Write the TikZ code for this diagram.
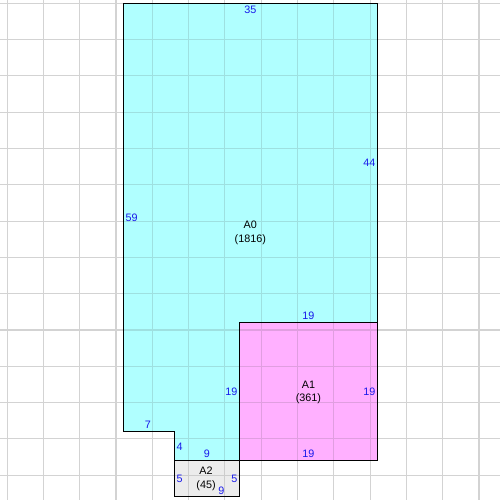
\documentclass[tikz,border=0pt]{standalone}
\usepackage{fontspec}
\setmainfont{Liberation Sans}
\usepackage{tikz}
\definecolor{C}{RGB}{176, 255, 255}
\definecolor{M}{RGB}{255, 176, 255}
\definecolor{Gy}{RGB}{236, 236, 236}
\definecolor{Lw}{RGB}{211, 211, 211}
\definecolor{Lc}{RGB}{158, 224, 224}
\definecolor{Lm}{RGB}{224, 158, 224}
\definecolor{Lg}{RGB}{205, 205, 205}
\definecolor{Bl}{RGB}{24, 24, 235}
\newcommand{\gridlines}[1]{%
  \foreach \x in {-16,-11,...,49}
    \draw[#1, line width=0.8pt] (\x,-0.45) -- (\x,68.42);
  \foreach \y in {0,5,...,65}
    \draw[#1, line width=0.8pt] (-16.98,\y) -- (51.89,\y);
}
\tikzset{
  outline/.style={black, line width=0.8pt},
  side/.style={Bl, inner sep=0pt, font=\fontsize{8.1}{10}\selectfont},
  area/.style={black, inner sep=0pt, align=center, font=\fontsize{8.1}{10}\selectfont}
}

\begin{document}
\begin{tikzpicture}[x=5.445pt, y=-5.445pt]
  \useasboundingbox (-16.98,-0.45) rectangle (51.89,68.42);
  % grid on white
  \gridlines{Lw}
  % A0
  \begin{scope}
    \clip (0,0) -- (35,0) -- (35,44) -- (16,44) -- (16,63) -- (7,63) -- (7,59) -- (0,59) -- cycle;
    \fill[color=C] (0,0) rectangle (35,63);
    \gridlines{Lc}
  \end{scope}
  % A1
  \begin{scope}
    \clip (16,44) rectangle (35,63);
    \fill[color=M] (16,44) rectangle (35,63);
    \gridlines{Lm}
  \end{scope}
  % A2
  \begin{scope}
    \clip (7,63) rectangle (16,68);
    \fill[color=Gy] (7,63) rectangle (16,68);
    \gridlines{Lg}
  \end{scope}
  % outlines
  \draw[outline] (0,0) -- (35,0) -- (35,44) -- (16,44) -- (16,63) -- (7,63) -- (7,59) -- (0,59) -- cycle;
  \draw[outline] (16,44) rectangle (35,63);
  \draw[outline] (7,63) rectangle (16,68);
  % A0
  \node[side] (a0top) at (17.5,0.95) {35};
  \node[side, anchor=east] (a0right) at (34.75,22) {44};
  \node[side, anchor=west] (a0left) at (0.3,29.6) {59};
  \node[side] (a0step) at (25.5,43.05) {19};
  \node[side, anchor=east] (a0inner) at (15.75,53.5) {19};
  \node[side] (a0seven) at (3.4,58.1) {7};
  \node[side, anchor=west] (a0four) at (7.3,61.1) {4};
  \node[side] (a0nine) at (11.5,62.1) {9};
  \node[area] (a0) at (17.5,31.6) {A0\\(1816)};
  % A1
  \node[side, anchor=east] (a1right) at (34.75,53.5) {19};
  \node[side] (a1bottom) at (25.5,62.1) {19};
  \node[area] (a1) at (25.5,53.6) {A1\\(361)};
  % A2
  \node[side, anchor=west] (a2left) at (7.3,65.5) {5};
  \node[side, anchor=east] (a2right) at (15.75,65.5) {5};
  \node[side] (a2bottom) at (13.5,67.2) {9};
  \node[area] (a2) at (11.4,65.5) {A2\\(45)};
\end{tikzpicture}
\end{document}
